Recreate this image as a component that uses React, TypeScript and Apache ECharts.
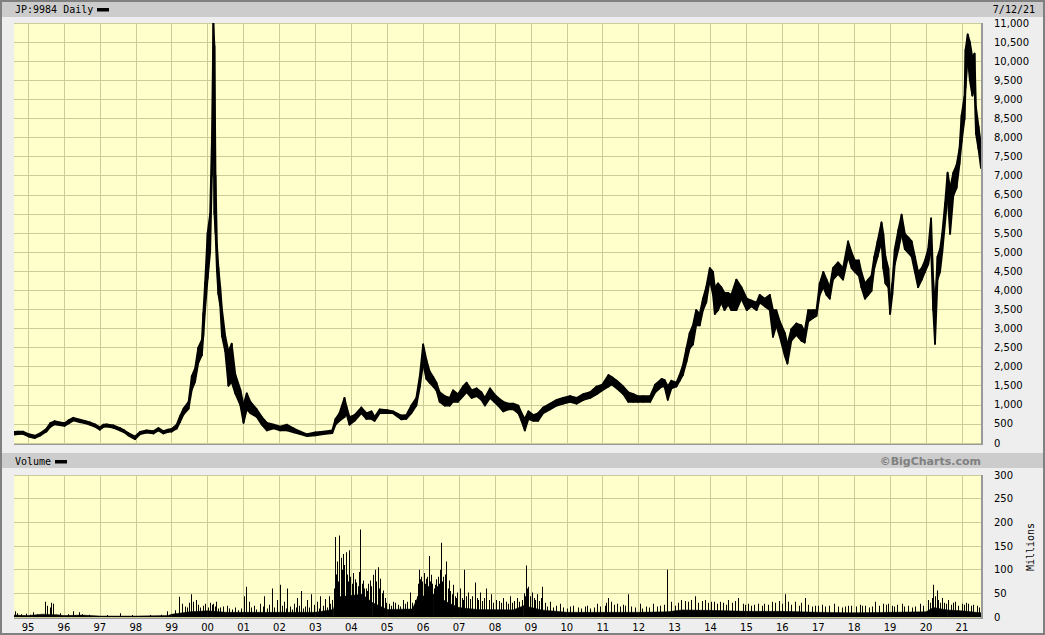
import React, { useEffect, useRef } from "react";
import * as echarts from "echarts";

// ---------- axis ticks ----------
const yearTicks = [
  1995, 1996, 1997, 1998, 1999, 2000, 2001, 2002, 2003, 2004, 2005, 2006, 2007, 2008,
  2009, 2010, 2011, 2012, 2013, 2014, 2015, 2016, 2017, 2018, 2019, 2020, 2021,
];
const X_MIN = 1994.61;
const X_MAX = 2021.53;

// ---------- price (daily high/low envelope) ----------
const priceT = [
  1994.58, 1994.72, 1994.86, 1995.02, 1995.19, 1995.35, 1995.51, 1995.62, 1995.74, 1995.88,
  1996.02, 1996.14, 1996.26, 1996.44, 1996.58, 1996.72, 1996.86, 1997.0, 1997.1, 1997.19,
  1997.37, 1997.56, 1997.68, 1997.79, 1997.98, 1998.12, 1998.3, 1998.49, 1998.63, 1998.77,
  1998.9, 1999.0, 1999.14, 1999.23, 1999.33, 1999.47, 1999.56, 1999.65, 1999.74, 1999.84,
  1999.88, 1999.93, 2000.0, 2000.07, 2000.12, 2000.16, 2000.19, 2000.22, 2000.26, 2000.3,
  2000.35, 2000.4, 2000.49, 2000.58, 2000.67, 2000.77, 2000.91, 2001.0, 2001.09, 2001.19,
  2001.37, 2001.51, 2001.65, 2001.84, 2002.02, 2002.21, 2002.4, 2002.58, 2002.77, 2003.0,
  2003.23, 2003.47, 2003.56, 2003.67, 2003.81, 2003.86, 2003.95, 2004.09, 2004.28, 2004.42,
  2004.56, 2004.65, 2004.79, 2005.0, 2005.16, 2005.39, 2005.53, 2005.67, 2005.81, 2005.91,
  2006.0, 2006.09, 2006.18, 2006.28, 2006.37, 2006.46, 2006.6, 2006.74, 2006.83, 2006.97,
  2007.11, 2007.21, 2007.35, 2007.49, 2007.62, 2007.72, 2007.86, 2007.98, 2008.09, 2008.23,
  2008.37, 2008.51, 2008.65, 2008.74, 2008.83, 2008.93, 2009.07, 2009.2, 2009.34, 2009.53,
  2009.72, 2009.9, 2010.09, 2010.27, 2010.46, 2010.65, 2010.83, 2010.99, 2011.16, 2011.25,
  2011.39, 2011.57, 2011.71, 2011.85, 2011.97, 2012.13, 2012.32, 2012.46, 2012.64, 2012.72,
  2012.81, 2012.91, 2013.05, 2013.14, 2013.23, 2013.33, 2013.42, 2013.51, 2013.6, 2013.7,
  2013.79, 2013.88, 2013.98, 2014.07, 2014.12, 2014.21, 2014.3, 2014.39, 2014.49, 2014.58,
  2014.72, 2014.86, 2015.01, 2015.14, 2015.28, 2015.37, 2015.51, 2015.65, 2015.74, 2015.83,
  2015.93, 2016.07, 2016.14, 2016.25, 2016.39, 2016.53, 2016.62, 2016.72, 2016.86, 2016.95,
  2017.04, 2017.14, 2017.23, 2017.32, 2017.41, 2017.55, 2017.69, 2017.83, 2017.93, 2018.02,
  2018.13, 2018.2, 2018.3, 2018.39, 2018.48, 2018.56, 2018.65, 2018.76, 2018.81, 2018.87,
  2018.95, 2019.0, 2019.06, 2019.13, 2019.23, 2019.32, 2019.41, 2019.51, 2019.6, 2019.69,
  2019.78, 2019.88, 2019.97, 2020.06, 2020.14, 2020.2, 2020.25, 2020.32, 2020.39, 2020.45,
  2020.53, 2020.6, 2020.67, 2020.76, 2020.85, 2020.93, 2020.99, 2021.07, 2021.1, 2021.16,
  2021.22, 2021.29, 2021.35, 2021.39, 2021.46, 2021.53,
];
const priceLo = [
  220, 230, 240, 170, 130, 200, 300, 420, 490, 470,
  450, 520, 590, 550, 520, 480, 430, 350, 420, 430,
  400, 330, 280, 200, 100, 230, 270, 250, 330, 250,
  290, 300, 380, 550, 750, 900, 1400, 1600, 2100, 2300,
  2800, 3500, 4300, 5000, 7000, 9000, 6000, 5500, 4500, 3900,
  3600, 2800, 2400, 1500, 1600, 1300, 1000, 530, 880, 780,
  680, 480, 330, 380, 330, 330, 280, 230, 180, 200,
  230, 260, 480, 580, 680, 780, 480, 580, 780, 630,
  630, 580, 780, 780, 780, 620, 630, 780, 980, 1480,
  2080, 1680, 1580, 1480, 1380, 1080, 980, 980, 1080, 1080,
  1230, 1330, 1180, 1230, 1130, 980, 1180, 1080, 980, 830,
  880, 880, 780, 580, 330, 630, 580, 580, 780, 880,
  980, 1030, 1080, 1030, 1130, 1180, 1280, 1380, 1480, 1530,
  1430, 1280, 1080, 1080, 1080, 1080, 1080, 1330, 1480, 1480,
  1130, 1430, 1480, 1630, 1780, 2130, 2480, 2580, 3080, 3080,
  3480, 3680, 4280, 3880, 3380, 3480, 3680, 3480, 3630, 3480,
  3480, 3780, 3480, 3580, 3480, 3680, 3580, 3480, 2780, 3080,
  2780, 2280, 2080, 2680, 2830, 2680, 2630, 3180, 3280, 3330,
  3880, 4080, 3880, 3780, 4280, 4430, 4280, 4880, 4580, 4480,
  4380, 4080, 3780, 3880, 3980, 4580, 4880, 5280, 4580, 4180,
  4080, 3380, 3880, 4680, 5080, 5480, 5080, 4980, 4880, 4480,
  4080, 4280, 4480, 4680, 5080, 3480, 2600, 4280, 4480, 4980,
  5780, 6480, 5480, 6480, 6680, 7300, 7880, 8480, 9300, 10100,
  9500, 9100, 9300, 8100, 7700, 7200,
];
const priceHi = [
  290, 300, 300, 230, 190, 260, 370, 520, 570, 540,
  520, 600, 660, 610, 580, 540, 490, 410, 480, 490,
  460, 390, 330, 260, 170, 290, 330, 310, 390, 310,
  350, 370, 480, 700, 900, 1080, 1750, 1950, 2500, 2700,
  3400, 4200, 5500, 6000, 8000, 11000, 10400, 7000, 5200, 4600,
  4100, 3500, 2800, 2400, 2600, 1800, 1400, 1000, 1300, 1080,
  880, 680, 530, 480, 430, 480, 380, 300, 230, 280,
  300, 330, 630, 780, 1180, 980, 680, 730, 930, 780,
  830, 680, 880, 860, 830, 720, 730, 980, 1180, 1780,
  2580, 2180, 1880, 1730, 1580, 1330, 1230, 1180, 1380, 1280,
  1480, 1580, 1380, 1430, 1330, 1180, 1430, 1280, 1180, 1080,
  1030, 1030, 980, 780, 630, 830, 730, 780, 930, 1030,
  1130, 1180, 1230, 1180, 1280, 1330, 1480, 1530, 1780, 1730,
  1630, 1480, 1330, 1280, 1230, 1230, 1230, 1530, 1680, 1650,
  1480, 1630, 1580, 1780, 2030, 2480, 2880, 3080, 3480, 3380,
  3780, 4080, 4580, 4480, 4080, 4180, 4080, 3930, 3930, 3880,
  4280, 4080, 3780, 3730, 3680, 3880, 3780, 3880, 3480, 3480,
  3180, 2880, 2580, 2980, 3130, 3080, 2930, 3480, 3480, 3480,
  4180, 4480, 4280, 4080, 4580, 4730, 4580, 5280, 4980, 4780,
  4780, 4480, 4180, 4280, 4380, 4880, 5280, 5780, 5480, 4880,
  4580, 3680, 4180, 5080, 5580, 5980, 5480, 5380, 5280, 4880,
  4480, 4580, 4780, 5080, 5880, 4280, 3600, 4880, 5080, 5480,
  6280, 7080, 6680, 7080, 7280, 7700, 8580, 9080, 10300, 10700,
  10500, 10100, 10200, 8800, 8300, 7800,
];

// ---------- volume (millions) ----------
const volBaseT = [
  1994.61, 1995.0, 1995.4, 1995.8, 1996.0, 1996.5, 1997.0, 1998.0, 1998.9, 1999.0,
  1999.5, 2000.0, 2000.5, 2001.0, 2002.0, 2003.0, 2003.5, 2003.6, 2004.3, 2004.6,
  2005.0, 2005.7, 2005.85, 2006.3, 2006.7, 2007.0, 2007.5, 2008.5, 2008.8, 2009.3,
  2010.0, 2011.0, 2012.0, 2012.8, 2013.2, 2014.0, 2015.0, 2016.0, 2017.0, 2018.0,
  2019.0, 2020.0, 2020.2, 2020.6, 2021.0, 2021.53,
];
const volBase = [
  4, 3, 6, 5, 3, 4, 2, 2, 3, 6,
  11, 13, 10, 10, 10, 10, 16, 42, 48, 30,
  16, 17, 42, 48, 30, 20, 16, 15, 24, 15,
  10, 10, 10, 11, 15, 14, 12, 12, 10, 9,
  10, 11, 20, 15, 13, 9,
];
// tallest daily spikes
const spikeT = [
  1994.65, 1995.14, 1995.47, 1995.53, 1995.6, 1995.65, 1995.7, 1996.26, 1996.41, 1997.56,
  1998.88, 1999.2, 1999.28, 1999.44, 1999.53, 1999.6, 1999.68, 1999.79, 1999.93, 2000.07,
  2000.16, 2000.24, 2000.35, 2000.54, 2000.68, 2001.0, 2001.07, 2001.14, 2001.47, 2001.58,
  2001.79, 2001.93, 2002.02, 2002.12, 2002.21, 2002.4, 2002.49, 2002.6, 2002.77, 2002.89,
  2003.05, 2003.14, 2003.28, 2003.37, 2003.47, 2003.53, 2003.56, 2003.61, 2003.65, 2003.7,
  2003.74, 2003.78, 2003.84, 2003.93, 2004.05, 2004.14, 2004.25, 2004.33, 2004.4, 2004.51,
  2004.6, 2004.65, 2004.74, 2004.81, 2004.88, 2005.16, 2005.44, 2005.63, 2005.77, 2005.89,
  2005.94, 2006.02, 2006.07, 2006.17, 2006.23, 2006.32, 2006.42, 2006.5, 2006.56, 2006.65,
  2006.72, 2006.83, 2006.95, 2007.02, 2007.14, 2007.25, 2007.44, 2007.58, 2007.76, 2007.9,
  2008.04, 2008.23, 2008.41, 2008.6, 2008.74, 2008.87, 2008.93, 2009.02, 2009.16, 2009.32,
  2009.53, 2009.81, 2010.18, 2010.55, 2010.83, 2011.16, 2011.39, 2011.71, 2012.04, 2012.41,
  2012.78, 2012.91, 2013.19, 2013.37, 2013.56, 2013.84, 2014.02, 2014.26, 2014.49, 2014.77,
  2015.05, 2015.33, 2015.7, 2016.07, 2016.35, 2016.62, 2016.99, 2017.43, 2017.83, 2018.3,
  2018.58, 2018.95, 2019.32, 2019.83, 2020.06, 2020.2, 2020.3, 2020.44, 2020.62, 2020.81,
  2020.99, 2021.18, 2021.41,
];
const spikeV = [
  12, 10, 32, 24, 20, 30, 28, 12, 10, 8,
  12, 43, 28, 20, 48, 32, 36, 20, 28, 30,
  28, 32, 20, 24, 16, 44, 64, 32, 28, 44,
  60, 36, 68, 32, 60, 28, 40, 55, 36, 48,
  32, 44, 38, 44, 36, 60, 169, 117, 172, 125,
  100, 133, 137, 141, 93, 73, 185, 77, 60, 77,
  89, 100, 105, 81, 56, 32, 36, 52, 36, 100,
  85, 93, 81, 129, 89, 68, 85, 157, 85, 117,
  77, 68, 52, 60, 100, 52, 73, 52, 60, 48,
  36, 40, 44, 40, 36, 109, 64, 52, 48, 64,
  32, 28, 24, 24, 28, 40, 28, 48, 28, 28,
  100, 32, 36, 32, 44, 36, 32, 32, 36, 40,
  28, 28, 32, 48, 32, 40, 24, 28, 24, 24,
  32, 28, 28, 28, 36, 68, 56, 40, 36, 32,
  28, 28, 24,
];
// secondary daily peaks that make up the dense body of the volume panel
const peakT = [
  1994.7, 1994.8, 1994.95, 1995.05, 1995.25, 1995.9, 1996.1, 1996.5, 1996.7, 1997.2,
  1997.9, 1998.4, 1998.7, 1999.1, 1999.36, 1999.48, 1999.72, 1999.86, 2000.02, 2000.11,
  2000.2, 2000.29, 2000.44, 2000.6, 2000.76, 2000.84, 2000.92, 2001.2, 2001.28, 2001.36,
  2001.54, 2001.66, 2001.72, 2001.86, 2002.08, 2002.17, 2002.28, 2002.34, 2002.45, 2002.55,
  2002.66, 2002.72, 2002.83, 2002.95, 2003.1, 2003.2, 2003.32, 2003.42, 2003.58, 2003.63,
  2003.67, 2003.72, 2003.76, 2003.8, 2003.87, 2003.9, 2003.97, 2004.01, 2004.09, 2004.18,
  2004.21, 2004.29, 2004.36, 2004.44, 2004.47, 2004.55, 2004.69, 2004.77, 2004.85, 2004.93,
  2004.97, 2005.05, 2005.1, 2005.22, 2005.3, 2005.36, 2005.5, 2005.56, 2005.7, 2005.82,
  2005.86, 2005.91, 2005.97, 2006.04, 2006.1, 2006.13, 2006.2, 2006.26, 2006.29, 2006.35,
  2006.38, 2006.45, 2006.47, 2006.53, 2006.6, 2006.62, 2006.68, 2006.76, 2006.8, 2006.88,
  2006.91, 2007.07, 2007.1, 2007.19, 2007.3, 2007.35, 2007.5, 2007.54, 2007.65, 2007.7,
  2007.83, 2007.95, 2008.1, 2008.16, 2008.3, 2008.36, 2008.47, 2008.53, 2008.68, 2008.8,
  2008.84, 2008.9, 2008.97, 2009.08, 2009.12, 2009.22, 2009.27, 2009.38, 2009.45, 2009.62,
  2009.7, 2009.9, 2010.0, 2010.1, 2010.3, 2010.4, 2010.5, 2010.65, 2010.75, 2010.92,
  2011.05, 2011.1, 2011.22, 2011.3, 2011.48, 2011.55, 2011.63, 2011.8, 2011.9, 2012.1,
  2012.2, 2012.3, 2012.5, 2012.6, 2012.7, 2013.0, 2013.1, 2013.28, 2013.46, 2013.65,
  2013.75, 2013.93, 2014.1, 2014.17, 2014.35, 2014.42, 2014.6, 2014.68, 2014.9, 2014.96,
  2015.12, 2015.2, 2015.42, 2015.5, 2015.6, 2015.8, 2015.9, 2016.0, 2016.15, 2016.25,
  2016.45, 2016.52, 2016.72, 2016.82, 2016.9, 2017.1, 2017.2, 2017.3, 2017.55, 2017.65,
  2017.75, 2017.92, 2018.05, 2018.15, 2018.22, 2018.4, 2018.5, 2018.7, 2018.8, 2018.88,
  2019.05, 2019.12, 2019.2, 2019.4, 2019.5, 2019.6, 2019.7, 2019.92, 2020.12, 2020.16,
  2020.24, 2020.34, 2020.38, 2020.5, 2020.55, 2020.7, 2020.76, 2020.9, 2021.05, 2021.1,
  2021.25, 2021.3, 2021.48,
];
const peakV = [
  8, 6, 7, 5, 6, 8, 6, 6, 5, 4,
  4, 4, 5, 14, 22, 30, 26, 24, 20, 26,
  22, 18, 22, 18, 20, 14, 18, 20, 24, 16,
  22, 18, 26, 20, 24, 18, 22, 16, 20, 24,
  18, 22, 20, 26, 18, 24, 20, 28, 90, 75,
  95, 80, 70, 110, 90, 75, 85, 70, 80, 65,
  95, 70, 60, 55, 70, 65, 75, 60, 50, 40,
  30, 28, 24, 30, 26, 22, 28, 32, 30, 44,
  70, 80, 75, 70, 85, 65, 75, 70, 60, 80,
  65, 70, 100, 75, 65, 90, 60, 55, 48, 44,
  40, 40, 36, 44, 38, 44, 40, 36, 34, 40,
  36, 30, 34, 30, 32, 28, 30, 34, 32, 50,
  44, 60, 44, 40, 36, 34, 40, 30, 22, 20,
  24, 20, 18, 22, 20, 18, 22, 18, 20, 22,
  24, 30, 32, 26, 22, 26, 24, 22, 20, 18,
  22, 20, 22, 24, 26, 24, 30, 34, 36, 30,
  34, 30, 32, 28, 30, 26, 30, 34, 28, 26,
  24, 26, 24, 28, 26, 30, 34, 28, 32, 26,
  24, 30, 26, 22, 24, 26, 22, 24, 22, 20,
  22, 24, 22, 26, 24, 20, 22, 24, 28, 26,
  24, 22, 26, 22, 24, 20, 22, 24, 30, 40,
  44, 36, 30, 30, 28, 26, 30, 24, 26, 30,
  24, 26, 20,
];

// ---------- colours ----------
const PAGE_BG = "#eeeeee";
const BAR_BG = "#cccccc";
const PLOT_BG = "#ffffcc";
const GRID_LINE = "#cccc99";
const SHADOW = "#999999";
const INK = "#000000";

const labelFont = { fontFamily: "DejaVu Sans", fontSize: 10, color: INK };

const bandRenderer = (ts: number[], los: number[], his: number[], stroke: number) =>
  (params: any, api: any) => {
    const i = params.dataIndex;
    if (i >= ts.length - 1) return null;
    const a = api.coord([ts[i], los[i]]);
    const b = api.coord([ts[i], his[i]]);
    const c = api.coord([ts[i + 1], his[i + 1]]);
    const d = api.coord([ts[i + 1], los[i + 1]]);
    return {
      type: "polygon",
      shape: { points: [a, b, c, d] },
      style: { fill: INK, stroke: INK, lineWidth: stroke, lineJoin: "round" },
    };
  };

const spikeRenderer = (params: any, api: any) => {
  const top = api.coord([api.value(0), api.value(1)]);
  const bot = api.coord([api.value(0), 0]);
  return {
    type: "rect",
    shape: { x: Math.round(top[0]), y: top[1], width: 1, height: bot[1] - top[1] },
    style: { fill: INK },
  };
};

export default function App() {
  const ref = useRef<HTMLDivElement>(null);

  useEffect(() => {
    if (!ref.current) return;
    const chart = echarts.init(ref.current, undefined, { renderer: "svg" });

    const volZero = volBase.map(() => 0);
    const allSpikeT = spikeT.concat(peakT);
    const allSpikeV = spikeV.concat(peakV);

    const xAxisBase = (gridIndex: number, showLabels: boolean) => ({
      type: "value",
      gridIndex,
      min: X_MIN,
      max: X_MAX,
      axisLine: { show: false },
      axisTick: { show: false, customValues: yearTicks },
      axisLabel: {
        show: showLabels,
        customValues: yearTicks,
        margin: 5,
        ...labelFont,
        formatter: (v: number) => String(Math.round(v)).slice(2),
      },
      splitLine: { show: true, lineStyle: { color: GRID_LINE, width: 1 } },
    });

    const text = (t: string, x: number, y: number, align: string, extra: any = {}) => ({
      type: "text",
      x,
      y,
      ...extra,
      style: {
        text: t,
        font: "10px 'DejaVu Sans Mono'",
        fill: INK,
        align,
        verticalAlign: "middle",
        ...(extra.style || {}),
      },
    });

    const option: any = {
      animation: false,
      backgroundColor: PAGE_BG,
      graphic: [
        {
          type: "rect",
          z: -10,
          shape: { x: 1, y: 1, width: 1043, height: 633 },
          style: { fill: PAGE_BG, stroke: "#808080", lineWidth: 2 },
        },
        { type: "rect", shape: { x: 2, y: 2, width: 1041, height: 15 }, style: { fill: BAR_BG } },
        { type: "rect", shape: { x: 2, y: 453, width: 1041, height: 15 }, style: { fill: BAR_BG } },
        text("JP:9984 Daily", 15, 9.5, "left"),
        { type: "rect", shape: { x: 97, y: 8, width: 12, height: 3.5 }, style: { fill: INK } },
        text("7/12/21", 1035, 9.5, "right"),
        text("Volume", 15, 461.5, "left"),
        { type: "rect", shape: { x: 55, y: 460, width: 12, height: 3.5 }, style: { fill: INK } },
        text("\u00a9BigCharts.com", 981, 461.5, "right", {
          style: { font: "bold 11px 'DejaVu Sans'", fill: "#808080" },
        }),
        text("Millions", 1030, 547, "center", { rotation: Math.PI / 2 }),
        // plot shadows
        { type: "line", shape: { x1: 14, y1: 444, x2: 983, y2: 444 }, style: { stroke: SHADOW, lineWidth: 2 } },
        { type: "line", shape: { x1: 982, y1: 23, x2: 982, y2: 445 }, style: { stroke: SHADOW, lineWidth: 2 } },
        { type: "line", shape: { x1: 14, y1: 618, x2: 983, y2: 618 }, style: { stroke: SHADOW, lineWidth: 2 } },
        { type: "line", shape: { x1: 982, y1: 475, x2: 982, y2: 619 }, style: { stroke: SHADOW, lineWidth: 2 } },
      ],
      grid: [
        { left: 14, top: 23, width: 967, height: 420, show: true, backgroundColor: PLOT_BG, borderWidth: 0 },
        { left: 14, top: 475, width: 967, height: 142, show: true, backgroundColor: PLOT_BG, borderWidth: 0 },
      ],
      xAxis: [xAxisBase(0, false), xAxisBase(1, true)],
      yAxis: [
        {
          type: "value",
          gridIndex: 0,
          position: "right",
          min: 0,
          max: 11000,
          interval: 500,
          axisLine: { show: false },
          axisTick: { show: false },
          axisLabel: {
            ...labelFont,
            margin: 13,
            align: "left",
            formatter: (v: number) => v.toLocaleString("en-US"),
          },
          splitLine: { show: true, lineStyle: { color: GRID_LINE, width: 1 } },
        },
        {
          type: "value",
          gridIndex: 1,
          position: "right",
          min: 0,
          max: 300,
          interval: 50,
          axisLine: { show: false },
          axisTick: { show: false },
          axisLabel: { ...labelFont, margin: 13, align: "left" },
          splitLine: { show: true, lineStyle: { color: GRID_LINE, width: 1 } },
        },
      ],
      series: [
        {
          type: "custom",
          name: "JP:9984",
          xAxisIndex: 0,
          yAxisIndex: 0,
          clip: true,
          encode: { x: 0, y: [1, 2] },
          data: priceT.map((t, i) => [t, priceLo[i], priceHi[i]]),
          renderItem: bandRenderer(priceT, priceLo, priceHi, 1.8),
        },
        {
          type: "custom",
          name: "Volume base",
          xAxisIndex: 1,
          yAxisIndex: 1,
          clip: true,
          encode: { x: 0, y: [1, 2] },
          data: volBaseT.map((t, i) => [t, 0, volBase[i]]),
          renderItem: bandRenderer(volBaseT, volZero, volBase, 0.5),
        },
        {
          type: "custom",
          name: "Volume",
          xAxisIndex: 1,
          yAxisIndex: 1,
          clip: true,
          encode: { x: 0, y: 1 },
          data: allSpikeT.map((t, i) => [t, allSpikeV[i]]),
          renderItem: spikeRenderer,
        },
      ],
    };

    chart.setOption(option);
    return () => chart.dispose();
  }, []);

  return (
    <div
      ref={ref}
      style={{ position: "absolute", left: 0, top: 0, width: 1045, height: 635 }}
    />
  );
}
